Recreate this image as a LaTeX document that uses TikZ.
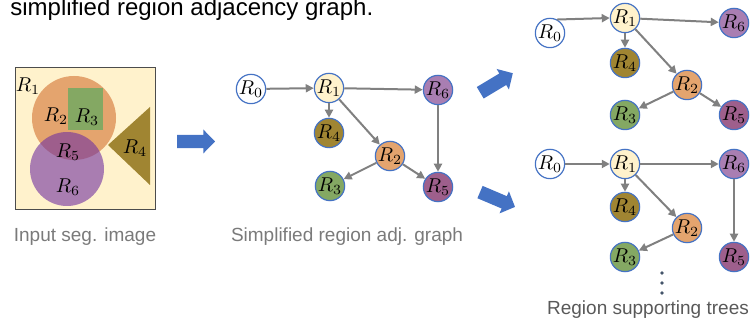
\documentclass[tikz,border=0pt]{standalone}
\usepackage{fontspec}
\setmainfont{Liberation Sans}
\usetikzlibrary{arrows.meta, positioning}

\definecolor{segbg}{HTML}{FFF2CC}
\definecolor{regorange}{HTML}{E4A46E}
\definecolor{reggreen}{HTML}{84A863}
\definecolor{regolive}{HTML}{A08532}
\definecolor{regpurple}{HTML}{7030A0}
\definecolor{regplum}{HTML}{9E5F8C}
\definecolor{reglilac}{HTML}{A97EB2}
\definecolor{nodeblue}{HTML}{4472C4}
\definecolor{edgegray}{HTML}{808080}
\definecolor{capgray}{HTML}{7A7A7A}
\definecolor{dotslate}{HTML}{44546A}

% big blue block arrow: centre, angle
\newcommand{\stagearrow}[2]{%
  \fill[nodeblue, shift={#1}, rotate=#2]
    (-19,-6.7) -- (7.3,-6.7) -- (7.3,-12) -- (19,0) -- (7.3,12)
    -- (7.3,6.7) -- (-19,6.7) -- cycle;}

\begin{document}
\begin{tikzpicture}[
    x=0.5pt, y=-0.5pt,
    reg/.style={circle, draw=nodeblue, line width=0.6pt,
                minimum size=14pt, inner sep=0pt,
                font=\fontsize{10}{12}\selectfont},
    edge/.style={-{Triangle[length=4pt,width=4pt]}, draw=edgegray,
                 line width=1pt},
    segl/.style={font=\fontsize{10}{12}\selectfont, inner sep=0pt},
    captext/.style={font=\fontsize{9.5}{11}\selectfont, text=capgray},
  ]
  \useasboundingbox (0,0) rectangle (754,324);

  \node[anchor=base west, inner sep=0pt, font=\fontsize{12}{14}\selectfont]
    (title) at (10,16) {simplified region adjacency graph.};

  % ── segmentation image ──────────────────────────────────────────
  \fill[segbg] (15,68) rectangle (155,210);
  \fill[regorange] (74,118) circle (42);
  \fill[reggreen] (68,88) rectangle (103,130);
  \fill[regpurple, opacity=0.6] (67,169) circle (37);
  \fill[regolive] (108,145) -- (150,107) -- (150,185) -- cycle;
  \draw[black!70, line width=0.5pt] (15,68) rectangle (155,210);

  \node[segl] (sR1) at (28,86)  {$R_1$};
  \node[segl] (sR2) at (56,116) {$R_2$};
  \node[segl] (sR3) at (87,117) {$R_3$};
  \node[segl] (sR5) at (68,152) {$R_5$};
  \node[segl] (sR6) at (68,187) {$R_6$};
  \node[segl] (sR4) at (135,148) {$R_4$};

  \node[captext] (segcap) at (85,237) {Input seg. image};

  \stagearrow{(196,141.5)}{0}

  % ── adjacency graph ─────────────────────────────────────────────
  \node[reg, fill=white]     (gR0) at (251,89)  {$R_0$};
  \node[reg, fill=segbg]     (gR1) at (329,88)  {$R_1$};
  \node[reg, fill=reglilac]  (gR6) at (438,90)  {$R_6$};
  \node[reg, fill=regolive]  (gR4) at (329,133) {$R_4$};
  \node[reg, fill=regorange] (gR2) at (390,156) {$R_2$};
  \node[reg, fill=reggreen]  (gR3) at (330,186) {$R_3$};
  \node[reg, fill=regplum]   (gR5) at (438,187) {$R_5$};

  \draw[edge] (gR0) -- (gR1);
  \draw[edge] (gR1) -- (gR6);
  \draw[edge] (gR1) -- (gR4);
  \draw[edge] (gR1) -- (gR2);
  \draw[edge] (gR2) -- (gR3);
  \draw[edge] (gR2) -- (gR5);
  \draw[edge] (gR6) -- (gR5);

  \node[captext] (graphcap) at (347,237) {Simplified region adj. graph};

  \stagearrow{(496.5,83)}{31}
  \stagearrow{(497.5,199.5)}{-23}

  % ── supporting tree, upper ──────────────────────────────────────
  \node[reg, fill=white]     (aR0) at (550,33)  {$R_0$};
  \node[reg, fill=segbg]     (aR1) at (625,18)  {$R_1$};
  \node[reg, fill=reglilac]  (aR6) at (734,23)  {$R_6$};
  \node[reg, fill=regolive]  (aR4) at (625,63)  {$R_4$};
  \node[reg, fill=regorange] (aR2) at (687,85)  {$R_2$};
  \node[reg, fill=reggreen]  (aR3) at (625,115) {$R_3$};
  \node[reg, fill=regplum]   (aR5) at (734,115) {$R_5$};

  \draw[edge] (aR0.62) -- (aR1.west);
  \draw[edge] (aR1) -- (aR6);
  \draw[edge] (aR1) -- (aR4);
  \draw[edge] (aR1) -- (aR2);
  \draw[edge] (aR2) -- (aR3);
  \draw[edge] (aR2) -- (aR5);

  % ── supporting tree, lower ──────────────────────────────────────
  \node[reg, fill=white]     (bR0) at (550,164) {$R_0$};
  \node[reg, fill=segbg]     (bR1) at (625,164) {$R_1$};
  \node[reg, fill=reglilac]  (bR6) at (734,164) {$R_6$};
  \node[reg, fill=regolive]  (bR4) at (625,207) {$R_4$};
  \node[reg, fill=regorange] (bR2) at (687,228) {$R_2$};
  \node[reg, fill=reggreen]  (bR3) at (625,257) {$R_3$};
  \node[reg, fill=regplum]   (bR5) at (734,257) {$R_5$};

  \draw[edge] (bR0) -- (bR1);
  \draw[edge] (bR1) -- (bR6);
  \draw[edge] (bR1) -- (bR4);
  \draw[edge] (bR1) -- (bR2);
  \draw[edge] (bR2) -- (bR3);
  \draw[edge] (bR6) -- (bR5);

  % more trees follow
  \foreach \y in {273,283,293}
    \fill[dotslate] (662,\y) circle (1.8);

  \node[captext, text=black!65] (treecap) at (648,310) {Region supporting trees};

\end{tikzpicture}
\end{document}
